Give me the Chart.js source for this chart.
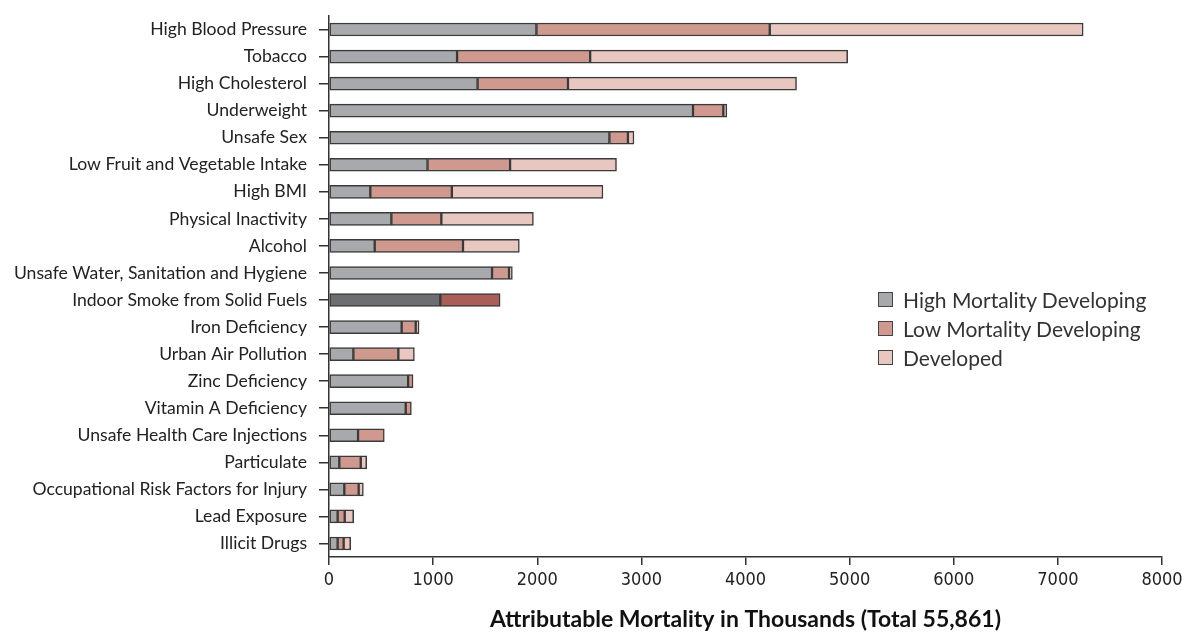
<!DOCTYPE html>
<html>
<head>
<meta charset="utf-8">
<script src="https://cdn.jsdelivr.net/npm/chart.js@4.4.1/dist/chart.umd.min.js"></script>
<style>
  html, body { margin: 0; padding: 0; background: #fff; }
  #wrap { position: relative; width: 1182px; height: 637px; }
  #legend { position: absolute; left: 878px; top: 285px; font-family: Lato, "Open Sans", sans-serif; font-size: 21px; color: #333; }
  #legend .item { display: flex; align-items: center; height: 29px; }
  #legend .box { width: 13px; height: 13px; border: 1.5px solid #444; margin-right: 10px; }
</style>
</head>
<body>
<div id="wrap">
  <canvas id="chart" width="1182" height="637"></canvas>
  <div id="legend"></div>
</div>
<script>
const categories = [
  "High Blood Pressure", "Tobacco", "High Cholesterol", "Underweight", "Unsafe Sex",
  "Low Fruit and Vegetable Intake", "High BMI", "Physical Inactivity", "Alcohol",
  "Unsafe Water, Sanitation and Hygiene", "Indoor Smoke from Solid Fuels", "Iron Deficiency",
  "Urban Air Pollution", "Zinc Deficiency", "Vitamin A Deficiency", "Unsafe Health Care Injections",
  "Particulate", "Occupational Risk Factors for Injury", "Lead Exposure", "Illicit Drugs"
];
const seriesNames = ["High Mortality Developing", "Low Mortality Developing", "Developed"];

// thousands of deaths
const highMortality = [1992, 1230, 1427, 3496, 2693, 946, 397, 599, 439, 1566, 1069, 698, 234, 760, 737, 279, 99, 147, 83, 83];
const lowMortality  = [2241, 1278, 868, 291, 178, 793, 783, 480, 848, 163, 574, 135, 432, 47, 54, 252, 206, 138, 68, 58];
const developed     = [3010, 2473, 2195, 34, 58, 1022, 1451, 884, 541, 32, 0, 32, 154, 0, 0, 0, 57, 45, 86, 67];

const xTicks = [0, 1000, 2000, 3000, 4000, 5000, 6000, 7000, 8000];
const highlightIndex = 10;

const baseColors = ["#a7a9ac", "#d09990", "#e8c7c1"];
const darkColors = ["#6d6e71", "#a95f57", "#c99a93"];

function colorsFor(s) {
  return categories.map((c, i) => i === highlightIndex ? darkColors[s] : baseColors[s]);
}

const seriesData = [highMortality, lowMortality, developed];
const datasets = seriesNames.map((name, s) => ({
  label: name,
  data: seriesData[s],
  backgroundColor: colorsFor(s),
  borderColor: "#3a3a3a",
  borderWidth: 1.5,
  borderSkipped: false,
  barThickness: 13
}));

const chart = new Chart(document.getElementById("chart"), {
  type: "bar",
  data: { labels: categories, datasets: datasets },
  options: {
    indexAxis: "y",
    responsive: false,
    animation: false,
    layout: { padding: { top: 16, right: 20, bottom: 0, left: 0 } },
    plugins: { legend: { display: false }, tooltip: { enabled: false } },
    scales: {
      x: {
        stacked: true,
        min: 0,
        max: 8000,
        afterBuildTicks: (scale) => { scale.ticks = xTicks.map(v => ({ value: v })); },
        afterFit: (scale) => { scale.height = 80; scale.paddingRight = 0; },
        border: { color: "#333", width: 1.5 },
        grid: { drawOnChartArea: false, tickLength: 8, color: "#333", lineWidth: 1.5 },
        ticks: {
          padding: 5,
          color: "#222",
          callback: (v) => String(v),
          font: { family: "'Liberation Sans Narrow', 'DejaVu Sans Condensed', sans-serif", size: 18 }
        },
        title: {
          display: true,
          text: "Attributable Mortality in Thousands (Total 55,861)",
          color: "#111",
          padding: { top: 0, bottom: 4 },
          font: { family: "Lato, sans-serif", size: 23, weight: "bold" }
        }
      },
      y: {
        stacked: true,
        afterFit: (scale) => { scale.width = 329; scale.paddingTop = 0; scale.paddingBottom = 0; },
        border: { color: "#333", width: 1.5 },
        grid: { drawOnChartArea: false, offset: false, tickLength: 10, color: "#333", lineWidth: 1.5 },
        ticks: {
          padding: 12,
          color: "#222",
          autoSkip: false,
          font: { family: "Lato, 'Open Sans', sans-serif", size: 17.6 }
        }
      }
    }
  }
});

const legendEl = document.getElementById("legend");
chart.data.datasets.forEach((ds, s) => {
  const item = document.createElement("div");
  item.className = "item";
  const box = document.createElement("span");
  box.className = "box";
  box.style.background = baseColors[s];
  const txt = document.createElement("span");
  txt.textContent = ds.label;
  item.replaceChildren(box, txt);
  legendEl.appendChild(item);
});
</script>
</body>
</html>
